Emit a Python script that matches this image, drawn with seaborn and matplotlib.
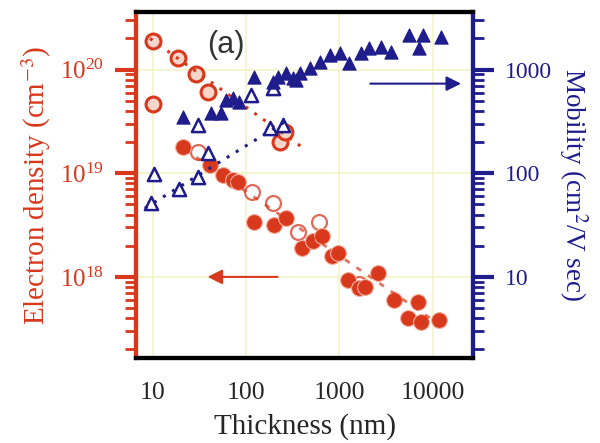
import numpy as np
import pandas as pd
import matplotlib
matplotlib.use("Agg")
import matplotlib.pyplot as plt
import matplotlib.ticker as mticker
import seaborn as sns

# 颜色
RED = "#d8381c"
NAVY = "#1f1c8c"

# ===== 数据 =====
# 薄膜区 空心圆 (电子浓度)
thin_open_x = [10, 18.6, 29, 39, 10, 232, 262]
thin_open_n = [1.9e20, 1.3e20, 9.1e19, 6.1e19, 4.7e19, 2.0e19, 2.5e19]

# 厚膜区 空心圆
thick_open_x = [30.5, 116, 195, 362, 610, 1600]
thick_open_n = [1.6e19, 6.6e18, 5.2e18, 2.7e18, 3.4e18, 8.6e17]

# 实心圆
filled_x = [21, 41, 57, 72, 82, 122, 200, 269, 400, 525, 656, 841, 976,
            1220, 1600, 1900, 2600, 3800, 5400, 6900, 7400, 11600]
filled_n = [1.8e19, 1.2e19, 9.7e18, 8.7e18, 8.3e18, 3.4e18, 3.2e18, 3.7e18,
            1.9e18, 2.2e18, 2.5e18, 1.6e18, 1.7e18, 9.4e17, 7.8e17, 8.0e17,
            1.1e18, 6.0e17, 4.0e17, 5.7e17, 3.7e17, 3.8e17]

# 空心三角 (迁移率, 薄膜)
tri_open_x = [9.5, 10.3, 19, 30.5, 39, 181, 250, 30.5, 113, 195]
tri_open_mu = [52, 99, 71, 92, 158, 276, 294, 294, 573, 670]

# 实心三角
tri_filled_x = [21, 42, 54, 61, 72, 84, 122, 195, 221, 269, 345, 320, 381,
                488, 625, 800, 1025, 1250, 1680, 2050, 2760, 3530, 5520,
                7060, 7800, 12200]
tri_filled_mu = [351, 385, 385, 513, 535, 491, 855, 766, 855, 936, 800, 838,
                 936, 1045, 1195, 1396, 1460, 1169, 1460, 1633, 1668, 1493,
                 2177, 1633, 2177, 2084]

# 拟合线端点
fit_thin_x, fit_thin_n = [9.3, 430], [2.0e20, 1.7e19]
fit_tri_x, fit_tri_mu = [8.2, 262], [46, 315]
fit_thick_x, fit_thick_n = [22, 12200], [1.7e19, 3.4e17]

# 箭头
arrow_n_x, arrow_n_y = [232, 36], 1e18
arrow_mu_x, arrow_mu_y = [2000, 21500], 733

sns.set_style("white")
plt.rcParams['font.family'] = ['Liberation Serif', 'DejaVu Serif']
plt.rcParams['mathtext.fontset'] = 'stix'

fig = plt.figure(figsize=(6, 4.43), dpi=100)
ax = fig.add_axes([0.2267, 0.1919, 0.5617, 0.781])
ax2 = ax.twinx()

ax.set_xscale("log")
ax.set_yscale("log")
ax2.set_yscale("log")
ax.set_xlim(6.6, 27000)
ax.set_ylim(1.65e17, 3.6e20)
ax2.set_ylim(1.65, 3600)

ax.grid(True, which="major", color="#f4f4c6", lw=1.2)
ax.set_axisbelow(True)

# 电子浓度
sns.lineplot(x=fit_thin_x, y=fit_thin_n, ax=ax, color=RED, lw=2.2,
             linestyle=(0, (1, 2.5)))
sns.lineplot(x=fit_thick_x, y=fit_thick_n, ax=ax, color=RED, lw=2.0,
             linestyle=(0, (2, 3)), alpha=0.7)
sns.scatterplot(x=thin_open_x, y=thin_open_n, ax=ax, s=115, marker="o",
                facecolor="#f7d6cc", edgecolor=RED, linewidth=2.2)
sns.scatterplot(x=thick_open_x, y=thick_open_n, ax=ax, s=115, marker="o",
                facecolor="white", edgecolor="#e06a5a", linewidth=1.6)
sns.scatterplot(x=filled_x, y=filled_n, ax=ax, s=130, marker="o",
                color=RED, edgecolor="#f2b0a0", linewidth=0.8)

# 迁移率
sns.lineplot(x=fit_tri_x, y=fit_tri_mu, ax=ax2, color=NAVY, lw=2.2,
             linestyle=(0, (1, 2.5)))
sns.scatterplot(x=tri_open_x, y=tri_open_mu, ax=ax2, s=90, marker="^",
                facecolor="white", edgecolor=NAVY, linewidth=1.8)
sns.scatterplot(x=tri_filled_x, y=tri_filled_mu, ax=ax2, s=90, marker="^",
                color=NAVY, edgecolor=NAVY, linewidth=0.8)

# 箭头
ax.annotate("", xy=(arrow_n_x[1], arrow_n_y), xytext=(arrow_n_x[0], arrow_n_y),
            arrowprops=dict(arrowstyle="-|>", color=RED, lw=1.5,
                            mutation_scale=22))
ax2.annotate("", xy=(arrow_mu_x[1], arrow_mu_y), xytext=(arrow_mu_x[0], arrow_mu_y),
             arrowprops=dict(arrowstyle="-|>", color=NAVY, lw=1.5,
                             mutation_scale=22))

ax.text(0.267, 0.905, "(a)", transform=ax.transAxes, fontsize=22,
        family=["Liberation Sans", "DejaVu Sans"], color="#333333",
        ha="center", va="center")

# 坐标轴
sub = np.arange(2, 10)
ax.xaxis.set_major_locator(mticker.LogLocator(base=10, numticks=10))
ax.xaxis.set_minor_locator(mticker.LogLocator(base=10, subs=sub, numticks=10))
ax.xaxis.set_major_formatter(mticker.FuncFormatter(lambda v, p: f"{v:.0f}"))
ax.xaxis.set_minor_formatter(mticker.NullFormatter())

ax.yaxis.set_major_locator(mticker.FixedLocator([1e18, 1e19, 1e20]))
ax.yaxis.set_minor_locator(mticker.LogLocator(base=10, subs=sub, numticks=10))
ax.yaxis.set_major_formatter(mticker.LogFormatterMathtext())
ax.yaxis.set_minor_formatter(mticker.NullFormatter())

ax2.yaxis.set_major_locator(mticker.FixedLocator([10, 100, 1000]))
ax2.yaxis.set_minor_locator(mticker.LogLocator(base=10, subs=sub, numticks=10))
ax2.yaxis.set_major_formatter(mticker.FuncFormatter(lambda v, p: f"{v:.0f}"))
ax2.yaxis.set_minor_formatter(mticker.NullFormatter())

ax.tick_params(axis="x", which="major", direction="out", length=11, width=3,
               color="black", labelsize=18.5, pad=6)
ax.tick_params(axis="x", which="minor", direction="out", length=7, width=2,
               color="black")
ax.tick_params(axis="y", which="major", direction="out", length=15, width=3,
               color=RED, labelcolor=RED, labelsize=18, pad=8)
ax.tick_params(axis="y", which="minor", direction="out", length=8, width=2,
               color=RED)
ax2.tick_params(axis="y", which="major", direction="out", length=15, width=3,
                color=NAVY, labelcolor=NAVY, labelsize=17, pad=8)
ax2.tick_params(axis="y", which="minor", direction="out", length=8, width=2,
                color=NAVY)

for a in (ax, ax2):
    for s in a.spines.values():
        s.set_linewidth(3)
        s.set_color("black")
ax.spines["left"].set_color(RED)
ax2.spines["left"].set_color(RED)
ax2.spines["right"].set_color(NAVY)
ax.spines["right"].set_color(NAVY)

ax.set_xlabel("Thickness (nm)", fontsize=21, labelpad=7)
ax.set_ylabel("Electron density (cm$^{-3}$)", fontsize=21, color=RED, labelpad=5)
ax2.set_ylabel("Mobility (cm$^{2}$/V sec)", fontsize=19.5, color=NAVY,
               rotation=270, labelpad=27)

fig.savefig("out.png", dpi=100)
